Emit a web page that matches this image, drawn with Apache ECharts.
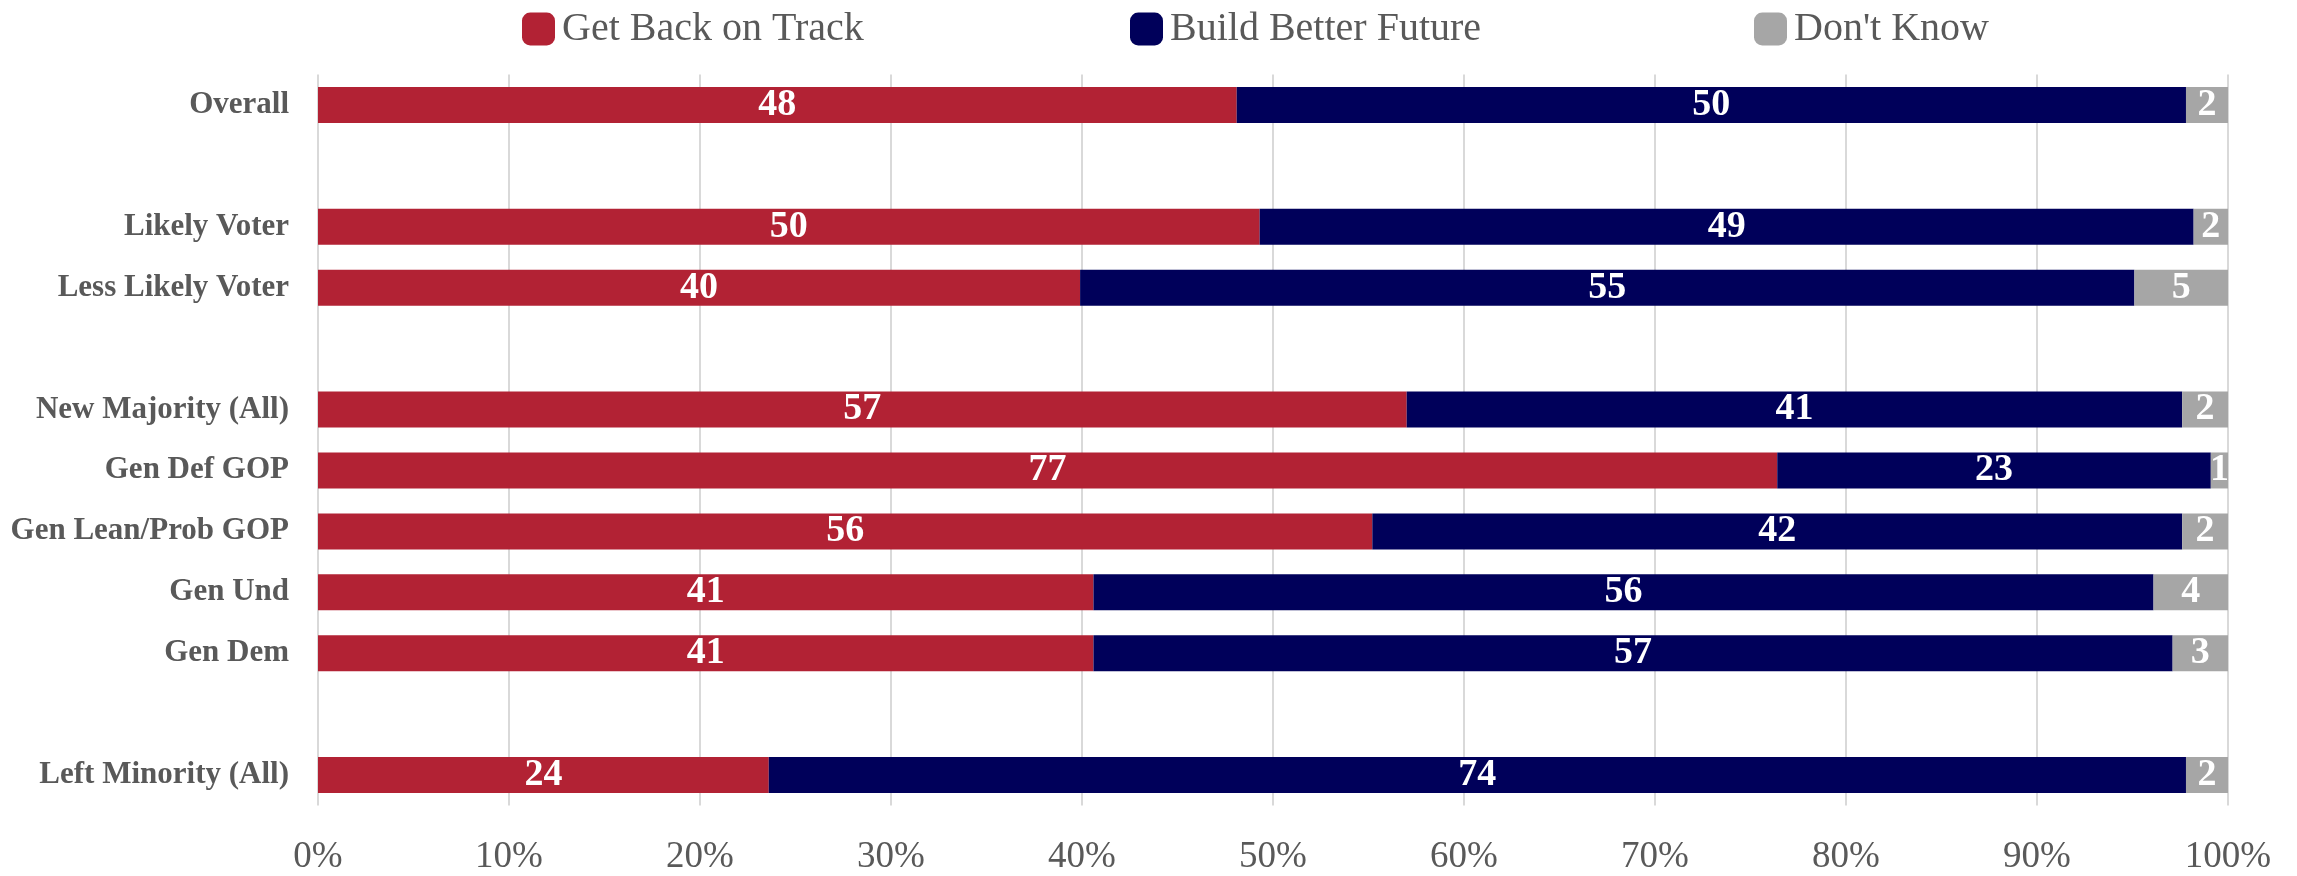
<!DOCTYPE html>
<html>
<head>
<meta charset="utf-8">
<style>
  html, body { margin: 0; padding: 0; background: #fff; }
  #chart { width: 2297px; height: 876px; }
</style>
<script src="https://cdn.jsdelivr.net/npm/echarts@6/dist/echarts.min.js"></script>
</head>
<body>
<div id="chart"></div>
<script>
// Categories (blank strings are spacer rows)
const categories = ['Overall', '', 'Likely Voter', 'Less Likely Voter', '', 'New Majority (All)', 'Gen Def GOP', 'Gen Lean/Prob GOP', 'Gen Und', 'Gen Dem', '', 'Left Minority (All)'];
const seriesNames = ['Get Back on Track', 'Build Better Future', "Don't Know"];

// Bar shares (%)
const backShare   = [48.1, null, 49.3, 39.9, null, 57.0, 76.4, 55.2, 40.6, 40.6, null, 23.6];
const futureShare = [49.7, null, 48.9, 55.2, null, 40.6, 22.7, 42.4, 55.5, 56.5, null, 74.2];
const dkShare     = [2.2,  null, 1.8,  4.9,  null, 2.4,  0.9,  2.4,  3.9,  2.9,  null, 2.2];

// Printed data labels
const backLabel   = [48, null, 50, 40, null, 57, 77, 56, 41, 41, null, 24];
const futureLabel = [50, null, 49, 55, null, 41, 23, 42, 56, 57, null, 74];
const dkLabel     = [2,  null, 2,  5,  null, 2,  1,  2,  4,  3,  null, 2];

const xTicks = [0, 10, 20, 30, 40, 50, 60, 70, 80, 90, 100];

const colors = ['#B22234', '#00005A', '#A6A6A6'];
const FONT = '"Liberation Serif", "Times New Roman", serif';

function mkSeries(i, vals, labels) {
  return {
    name: seriesNames[i],
    type: 'bar',
    stack: 'total',
    barWidth: 36,
    data: vals.map(v => v === null ? '-' : v),
    itemStyle: { color: colors[i] },
    label: {
      show: true,
      position: 'inside',
      color: '#fff',
      fontFamily: FONT,
      fontWeight: 'bold',
      fontSize: 38,
      formatter: p => labels[p.dataIndex] === null ? '' : String(labels[p.dataIndex])
    }
  };
}

const legendLefts = [517, 1125, 1749];
const chart = echarts.init(document.getElementById('chart'));
chart.setOption({
  animation: false,
  backgroundColor: '#fff',
  textStyle: { fontFamily: FONT },
  legend: seriesNames.map((n, i) => ({
    data: [n],
    left: legendLefts[i],
    top: 4,
    itemWidth: 33,
    itemHeight: 33,
    icon: 'roundRect',
    itemGap: 0,
    textStyle: { color: '#595959', fontSize: 40, fontFamily: FONT, padding: [0, 0, 0, 2] }
  })),
  grid: { left: 318, right: 69, top: 74.5, bottom: 70.5, containLabel: false },
  xAxis: {
    type: 'value',
    min: xTicks[0],
    max: xTicks[xTicks.length - 1],
    interval: xTicks[1] - xTicks[0],
    axisLine: { show: false },
    axisTick: { show: false },
    splitLine: { show: true, lineStyle: { color: '#D9D9D9', width: 2 } },
    axisLabel: { formatter: '{value}%', color: '#595959', fontSize: 37, fontFamily: FONT, margin: 33 }
  },
  yAxis: {
    type: 'category',
    inverse: true,
    data: categories,
    axisLine: { show: false },
    axisTick: { show: false },
    axisLabel: { color: '#595959', fontSize: 31, fontWeight: 'bold', fontFamily: FONT, margin: 29 }
  },
  series: [
    mkSeries(0, backShare, backLabel),
    mkSeries(1, futureShare, futureLabel),
    mkSeries(2, dkShare, dkLabel)
  ]
});
</script>
</body>
</html>
